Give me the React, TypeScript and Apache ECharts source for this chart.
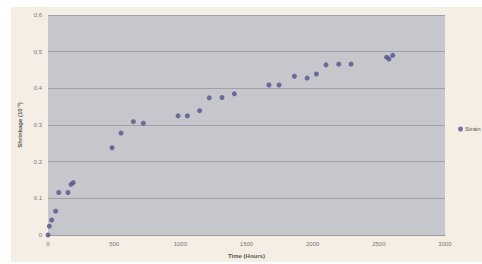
import React, { useEffect, useRef } from "react";
import * as echarts from "echarts";

const timeHours = [0, 10, 28, 58, 81, 151, 174, 191, 484, 552, 645, 720, 983, 1053, 1146, 1219, 1315, 1408, 1670, 1746, 1862, 1958, 2028, 2101, 2197, 2290, 2559, 2577, 2605];
const strainValues = [0.0, 0.024, 0.041, 0.065, 0.116, 0.116, 0.138, 0.143, 0.238, 0.278, 0.309, 0.305, 0.325, 0.325, 0.339, 0.374, 0.375, 0.385, 0.409, 0.409, 0.433, 0.428, 0.439, 0.464, 0.466, 0.466, 0.485, 0.48, 0.49];
const seriesName = "Strain";
const xTitle = "Time (Hours)";
const yTitle = "Shrinkage (10⁻³)";

export default function App() {
  const ref = useRef<HTMLDivElement>(null);
  useEffect(() => {
    if (!ref.current) return;
    const chart = echarts.init(ref.current, null, { renderer: "svg" });
    const data = timeHours.map((t, i) => [t, strainValues[i]]);
    chart.setOption({
      animation: false,
      backgroundColor: "#ffffff",
      textStyle: { fontFamily: "Liberation Sans, Arial, sans-serif" },
      graphic: [
        {
          type: "rect",
          z: -10,
          silent: true,
          shape: { x: 11, y: 7, width: 471, height: 255 },
          style: { fill: "#f4eee4" },
        },
      ],
      grid: {
        left: 48,
        right: 37,
        top: 15,
        bottom: 29,
        show: true,
        backgroundColor: "#c6c6cd",
        borderWidth: 0,
      },
      legend: {
        left: 453,
        top: 121,
        itemWidth: 5,
        itemHeight: 5,
        itemGap: 2,
        textStyle: { fontSize: 6, color: "#555", padding: [0, 0, 0, -3] },
        data: [{ name: seriesName, icon: "circle" }],
      },
      xAxis: {
        type: "value",
        min: 0,
        max: 3000,
        interval: 500,
        name: xTitle,
        nameLocation: "middle",
        nameGap: 18,
        nameTextStyle: { fontSize: 6, fontWeight: "bold", color: "#555" },
        axisLine: { show: true, lineStyle: { color: "#9a9aa2" } },
        axisTick: { show: false },
        axisLabel: { fontSize: 6, color: "#777", margin: 6, formatter: (v: number) => String(v) },
        splitLine: { show: false },
      },
      yAxis: {
        type: "value",
        min: 0,
        max: 0.6,
        interval: 0.1,
        name: yTitle,
        nameLocation: "middle",
        nameGap: 22,
        nameTextStyle: { fontSize: 6, fontWeight: "bold", color: "#555" },
        axisLine: { show: false },
        axisTick: { show: false },
        axisLabel: { fontSize: 6, color: "#777", margin: 6 },
        splitLine: { show: true, lineStyle: { color: "#a0a0a8", width: 1 } },
      },
      series: [
        {
          name: seriesName,
          type: "scatter",
          data,
          symbol: "circle",
          symbolSize: 5,
          itemStyle: { color: "#52528a" },
        },
      ],
    });
    return () => chart.dispose();
  }, []);
  return (
    <div
      ref={ref}
      style={{ position: "fixed", left: 0, top: 0, width: 482, height: 264 }}
    />
  );
}
